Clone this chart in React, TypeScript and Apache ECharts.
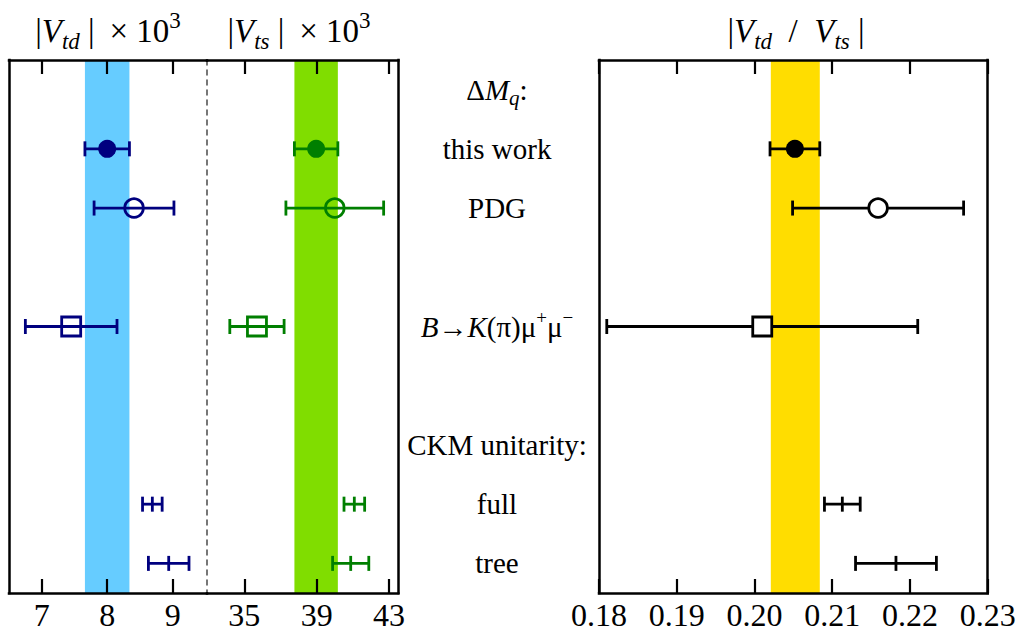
import React, { useEffect, useRef } from 'react';
import * as echarts from 'echarts';

// ---- data ----
const rowLabels = [
  '{n|Δ}{i|M}{isub|q}{n|:}',
  'this work',
  'PDG',
  '',
  '{i|B}{n|→}{i|K}{n|(π)μ}{sup|+}{n|μ}{sup|−}',
  '',
  'CKM unitarity:',
  'full',
  'tree',
];
const labelRows = [0, 1, 2, 4, 6, 7, 8];
const entryRows = [1, 2, 4, 7, 8];
const markerKinds = ['filled', 'open', 'square', 'tick', 'tick'];

const vtdCentral = [8.0, 8.41, 7.45, 8.69, 8.94];
const vtdError = [0.34, 0.61, 0.7, 0.15, 0.31];
const vtsCentral = [38.97, 40.0, 35.7, 41.08, 40.88];
const vtsError = [1.2, 2.7, 1.5, 0.57, 1.0];
const ratioCentral = [0.2052, 0.2159, 0.201, 0.2113, 0.2182];
const ratioError = [0.0032, 0.011, 0.02, 0.0023, 0.0052];

const vtdBand = [7.66, 8.34];
const vtsBand = [37.77, 40.17];
const ratioBand = [0.2021, 0.2084];

const vtdTicks = [7, 8, 9];
const vtsTicks = [35, 39, 43];
const ratioTicks = [0.18, 0.19, 0.2, 0.21, 0.22, 0.23];

const vtdRange = [6.5, 9.525];
const vtsRange = [32.94, 43.51];
const ratioRange = [0.18, 0.23];
const rowRange = [-0.5, 8.5];

// ---- styling ----
const FONT = 'Liberation Serif';
const NAVY = '#00007f';
const GREEN = '#007f00';
const BLACK = '#000000';

const titleRich = {
  n: { fontFamily: FONT, fontSize: 33, lineHeight: 44, color: '#000' },
  a: { fontFamily: FONT, fontSize: 33, lineHeight: 44, fontStyle: 'italic', color: '#000' },
  s: { fontFamily: FONT, fontSize: 23, lineHeight: 23, fontStyle: 'italic', verticalAlign: 'bottom', color: '#000' },
  sup: { fontFamily: FONT, fontSize: 23, lineHeight: 23, verticalAlign: 'top', color: '#000' },
};

const rowRich = {
  n: { fontFamily: FONT, fontSize: 29, lineHeight: 38, color: '#000' },
  i: { fontFamily: FONT, fontSize: 29, lineHeight: 38, fontStyle: 'italic', color: '#000' },
  isub: { fontFamily: FONT, fontSize: 21, lineHeight: 21, fontStyle: 'italic', verticalAlign: 'bottom', color: '#000' },
  sup: { fontFamily: FONT, fontSize: 19, lineHeight: 19, verticalAlign: 'top', color: '#000' },
};

function makeRender(color: string, hollowFill: string) {
  return (params: any, api: any) => {
    const c = api.value(0);
    const e = api.value(1);
    const row = api.value(2);
    const pc = api.coord([c, row]);
    const pl = api.coord([c - e, row]);
    const ph = api.coord([c + e, row]);
    const y = pc[1];
    const cap = 7.5;
    const lw = 2.8;
    const st = { stroke: color, lineWidth: lw, fill: null };
    const children: any[] = [
      { type: 'line', shape: { x1: pl[0], y1: y, x2: ph[0], y2: y }, style: st },
      { type: 'line', shape: { x1: pl[0], y1: y - cap, x2: pl[0], y2: y + cap }, style: st },
      { type: 'line', shape: { x1: ph[0], y1: y - cap, x2: ph[0], y2: y + cap }, style: st },
    ];
    const kind = markerKinds[params.dataIndex];
    if (kind === 'filled') {
      children.push({ type: 'circle', shape: { cx: pc[0], cy: y, r: 9 }, style: { fill: color } });
    } else if (kind === 'open') {
      children.push({ type: 'circle', shape: { cx: pc[0], cy: y, r: 9.3 }, style: { fill: hollowFill, stroke: color, lineWidth: lw } });
    } else if (kind === 'square') {
      children.push({ type: 'rect', shape: { x: pc[0] - 9.5, y: y - 9.5, width: 19, height: 19 }, style: { fill: hollowFill, stroke: color, lineWidth: lw } });
    } else {
      children.push({ type: 'line', shape: { x1: pc[0], y1: y - cap, x2: pc[0], y2: y + cap }, style: st });
    }
    return { type: 'group', children };
  };
}

const lineStyle = { color: '#000', width: 2.5, cap: 'square' };

function bottomAxis(grid: number, range: number[], ticks: number[], fmt: (v: number) => string) {
  return {
    type: 'value', gridIndex: grid, position: 'bottom', min: range[0], max: range[1], z: 10,
    axisLine: { show: true, onZero: false, lineStyle },
    axisTick: { show: true, inside: true, length: 14, customValues: ticks, lineStyle: { color: '#000', width: 2.2 } },
    axisLabel: { show: true, customValues: ticks, formatter: fmt, fontFamily: FONT, fontSize: 32, color: '#000', margin: 6 },
    splitLine: { show: false },
  };
}
function topAxis(grid: number, range: number[], ticks: number[]) {
  return {
    type: 'value', gridIndex: grid, position: 'top', min: range[0], max: range[1], z: 10,
    axisLine: { show: true, onZero: false, lineStyle },
    axisTick: { show: true, inside: true, length: 14, customValues: ticks, lineStyle: { color: '#000', width: 2.2 } },
    axisLabel: { show: false },
    splitLine: { show: false },
  };
}
function sideAxis(grid: number, position: string, ls: any, extra: any = {}) {
  return {
    type: 'value', gridIndex: grid, position, min: rowRange[0], max: rowRange[1], inverse: true, z: 10,
    axisLine: { show: true, onZero: false, lineStyle: ls },
    axisTick: { show: false },
    axisLabel: { show: false },
    splitLine: { show: false },
    ...extra,
  };
}

function buildOption() {
  const gridTop = 60;
  const gridH = 533;
  return {
    animation: false,
    backgroundColor: '#fff',
    textStyle: { fontFamily: FONT },
    grid: [
      { left: 9, top: gridTop, width: 198, height: gridH, outerBoundsMode: 'none' },
      { left: 207, top: gridTop, width: 191.3, height: gridH, outerBoundsMode: 'none' },
      { left: 599, top: gridTop, width: 388.7, height: gridH, outerBoundsMode: 'none' },
    ],
    xAxis: [
      bottomAxis(0, vtdRange, vtdTicks, (v: number) => String(v)),
      topAxis(0, vtdRange, vtdTicks),
      bottomAxis(1, vtsRange, vtsTicks, (v: number) => String(v)),
      topAxis(1, vtsRange, vtsTicks),
      bottomAxis(2, ratioRange, ratioTicks, (v: number) => v.toFixed(2)),
      topAxis(2, ratioRange, ratioTicks),
    ],
    yAxis: [
      sideAxis(0, 'left', lineStyle),
      sideAxis(1, 'left', { color: '#555', width: 1.6, type: [5, 5] }),
      sideAxis(1, 'right', lineStyle),
      sideAxis(2, 'left', lineStyle, {
        axisLabel: {
          show: true,
          customValues: labelRows,
          formatter: (v: number) => rowLabels[Math.round(v)] || '',
          fontFamily: FONT, fontSize: 29, color: '#000',
          align: 'center', verticalAlign: 'middle', margin: 102,
          rich: rowRich,
        },
      }),
      sideAxis(2, 'right', lineStyle),
    ],
    graphic: [
      { type: 'text', x: 108, y: 31, style: { text: '{n||}{a|V}{s|td}{n| | \u2009× 10}{sup|3}', rich: titleRich, align: 'center', verticalAlign: 'middle' } },
      { type: 'text', x: 299, y: 31, style: { text: '{n||}{a|V}{s|ts}{n| | \u2009× 10}{sup|3}', rich: titleRich, align: 'center', verticalAlign: 'middle' } },
      { type: 'text', x: 796, y: 31, style: { text: '{n||}{a|V}{s|td}{n|  /  }{a|V}{s|ts}{n| |}', rich: titleRich, align: 'center', verticalAlign: 'middle' } },
    ],
    series: [
      {
        type: 'custom', xAxisIndex: 0, yAxisIndex: 0, z: 3,
        encode: { x: 0, y: 2 },
        data: entryRows.map((r, i) => [vtdCentral[i], vtdError[i], r]),
        renderItem: makeRender(NAVY, 'transparent'),
        markArea: { silent: true, z: 1, itemStyle: { color: '#66ccff', opacity: 1 }, data: [[{ xAxis: vtdBand[0] }, { xAxis: vtdBand[1] }]] },
      },
      {
        type: 'custom', xAxisIndex: 2, yAxisIndex: 2, z: 3,
        encode: { x: 0, y: 2 },
        data: entryRows.map((r, i) => [vtsCentral[i], vtsError[i], r]),
        renderItem: makeRender(GREEN, 'transparent'),
        markArea: { silent: true, z: 1, itemStyle: { color: '#80dd00', opacity: 1 }, data: [[{ xAxis: vtsBand[0] }, { xAxis: vtsBand[1] }]] },
      },
      {
        type: 'custom', xAxisIndex: 4, yAxisIndex: 3, z: 3,
        encode: { x: 0, y: 2 },
        data: entryRows.map((r, i) => [ratioCentral[i], ratioError[i], r]),
        renderItem: makeRender(BLACK, '#ffffff'),
        markArea: { silent: true, z: 1, itemStyle: { color: '#ffdd00', opacity: 1 }, data: [[{ xAxis: ratioBand[0] }, { xAxis: ratioBand[1] }]] },
      },
    ],
  };
}

export default function App() {
  const ref = useRef<HTMLDivElement>(null);
  useEffect(() => {
    if (!ref.current) return;
    const chart = echarts.init(ref.current, null, { renderer: 'svg' });
    chart.setOption(buildOption() as any);
    return () => chart.dispose();
  }, []);
  return (
    <div
      ref={ref}
      style={{ position: 'absolute', left: 0, top: 0, width: 1021, height: 632, background: '#fff' }}
    />
  );
}
